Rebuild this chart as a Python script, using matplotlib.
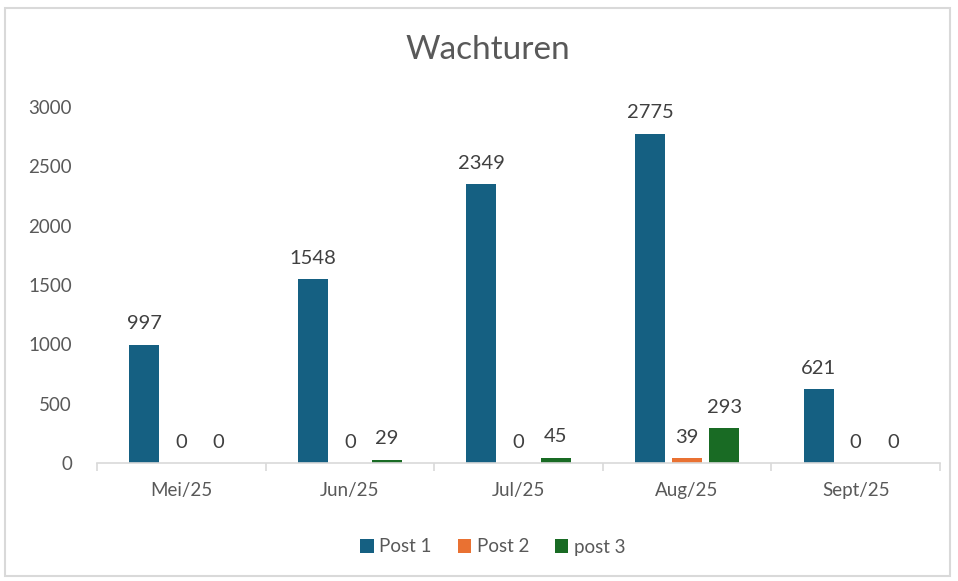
import numpy as np
import matplotlib.pyplot as plt
from matplotlib.patches import Rectangle

plt.rcParams['font.family'] = ['Lato', 'DejaVu Sans']

months = ["Mei/25", "Jun/25", "Jul/25", "Aug/25", "Sept/25"]
post1 = [997, 1548, 2349, 2775, 621]
post2 = [0, 0, 0, 39, 0]
post3 = [0, 29, 45, 293, 0]

series = [("Post 1", post1, "#156082"),
          ("Post 2", post2, "#E97132"),
          ("post 3", post3, "#196B24")]

W, H = 958, 581
fig = plt.figure(figsize=(W / 100, H / 100), dpi=100)
ax = fig.add_axes([97 / W, 1 - 463 / H, (940 - 97) / W, (463 - 107) / H])

fig.patches.append(Rectangle((5 / W, 5 / H), 945 / W, 568 / H, transform=fig.transFigure,
                             fill=False, edgecolor="#d9d9d9", linewidth=1.5))

x = np.arange(len(months))
width = 0.178
offsets = [-0.22, 0.0, 0.22]
txt = "#595959"
for (name, vals, col), off in zip(series, offsets):
    bars = ax.bar(x + off, vals, width, color=col, label=name)
    for b, v in zip(bars, vals):
        ax.annotate(str(v), (b.get_x() + b.get_width() / 2, v), xytext=(0, 9),
                    textcoords="offset points", ha="center", va="bottom",
                    fontsize=14.5, color="#404040")

ax.set_xlim(-0.5, len(months) - 0.5)
ax.set_ylim(0, 3000)
ax.set_yticks(range(0, 3001, 500))
ax.set_xticks(x)
ax.set_xticklabels(months)
ax.set_xticks(np.arange(len(months) + 1) - 0.5, minor=True)
ax.tick_params(axis="x", which="major", length=0, pad=14, labelsize=13.5, labelcolor=txt)
ax.tick_params(axis="x", which="minor", length=6, color="#d9d9d9", width=1.2)
ax.tick_params(axis="y", length=0, pad=18, labelsize=13.5, labelcolor=txt)
for s in ["top", "right", "left"]:
    ax.spines[s].set_visible(False)
ax.spines["bottom"].set_color("#d9d9d9")
ax.spines["bottom"].set_linewidth(1.2)

fig.text(488 / W, 1 - 50 / H, "Wachturen", ha="center", va="center", fontsize=24,
         color=txt)
fig.legend(loc="center", bbox_to_anchor=(493 / W, 1 - 547 / H), ncol=3, frameon=False,
           fontsize=13.5, labelcolor=txt, handlelength=0.7, handleheight=0.7,
           handletextpad=0.3, columnspacing=1.4)

fig.savefig("out.png", dpi=100)
